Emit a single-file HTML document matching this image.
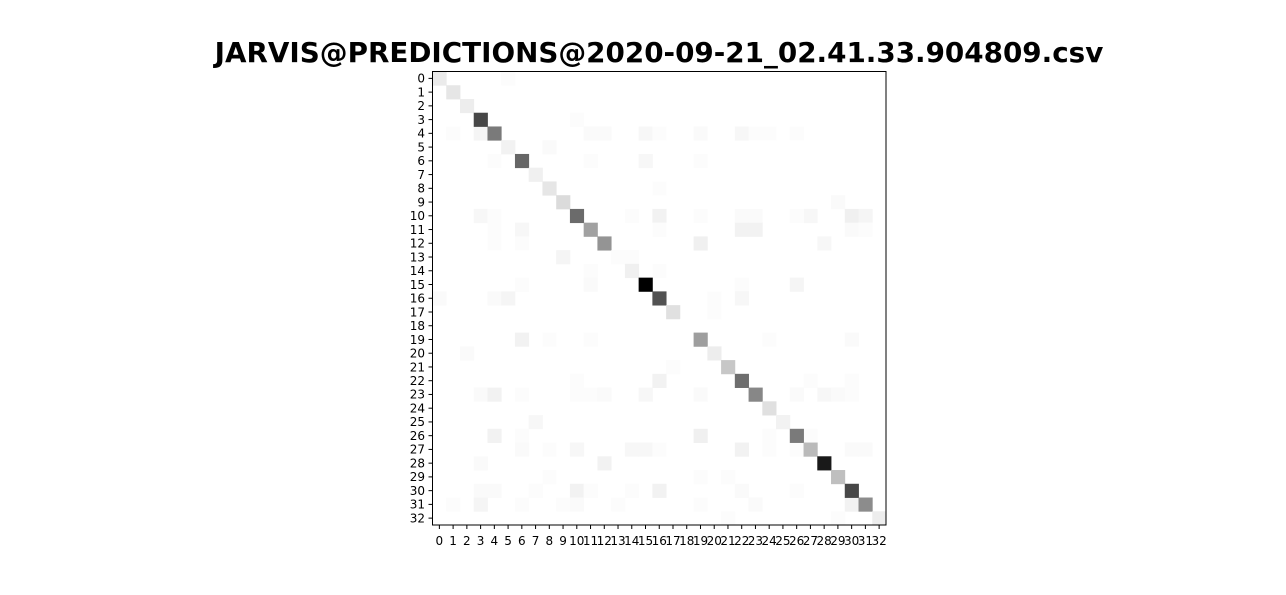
<!DOCTYPE html>
<html><head><meta charset="utf-8"><style>
body{margin:0;background:#fff;width:1286px;height:590px;overflow:hidden}
text{font-family:"DejaVu Sans","Liberation Sans",sans-serif}
</style></head><body>
<svg id="chart" width="1286" height="590" xmlns="http://www.w3.org/2000/svg">
<text x="659" y="62" text-anchor="middle" font-size="27.8" font-weight="bold" fill="#000">JARVIS@PREDICTIONS@2020-09-21_02.41.33.904809.csv</text>
<g id="cells"></g><g id="ticks"></g>
<rect x="432.5" y="71.5" width="453.5" height="453.5" fill="none" stroke="#000" stroke-width="1"/>
</svg>
<script>
const categories = Array.from({length:33},(_,i)=>String(i));
const diagonalValues = [0.08,0.1,0.07,0.72,0.52,0.05,0.6,0.06,0.1,0.14,0.58,0.37,0.42,0.01,0.06,1.0,0.68,0.12,0,0.38,0.07,0.22,0.57,0.47,0.12,0.05,0.52,0.27,0.9,0.25,0.72,0.45,0.07];
const offRows = [0,3,4,4,4,4,4,4,4,4,4,4,4,5,6,6,6,6,8,9,10,10,10,10,10,10,10,10,10,10,10,11,11,11,11,11,11,11,12,12,12,12,13,13,14,14,15,15,15,15,16,16,16,16,16,17,19,19,19,19,19,20,21,22,22,22,22,23,23,23,23,23,23,23,23,23,23,23,23,25,26,26,26,26,26,27,27,27,27,27,27,27,27,27,27,27,28,28,29,29,29,30,30,30,30,30,30,30,30,30,31,31,31,31,31,31,31,31,31,32,32];
const offCols = [5,10,1,3,11,12,15,16,19,22,23,24,26,8,4,11,15,19,16,29,3,4,14,16,19,22,23,27,30,31,26,4,6,16,22,23,30,31,4,6,19,28,9,14,11,16,6,11,22,26,0,4,5,20,22,20,6,8,11,24,30,2,17,10,16,27,30,3,4,6,10,11,12,15,19,26,28,29,30,7,4,6,19,24,27,6,8,10,14,15,16,22,24,26,30,31,3,12,8,19,21,3,4,7,10,11,14,16,22,26,1,3,6,9,10,13,19,23,30,21,29];
const offValues = [0.01,0.01,0.01,0.04,0.02,0.02,0.03,0.01,0.02,0.03,0.01,0.01,0.01,0.02,0.01,0.01,0.03,0.01,0.01,0.02,0.03,0.01,0.01,0.05,0.01,0.02,0.02,0.03,0.06,0.04,0.01,0.01,0.03,0.01,0.05,0.05,0.02,0.01,0.01,0.01,0.06,0.03,0.04,0.01,0.01,0.01,0.01,0.02,0.01,0.04,0.02,0.02,0.04,0.01,0.03,0.01,0.05,0.01,0.01,0.01,0.02,0.02,0.01,0.01,0.05,0.01,0.01,0.02,0.05,0.01,0.01,0.01,0.02,0.03,0.02,0.02,0.03,0.02,0.01,0.03,0.05,0.01,0.06,0.01,0.01,0.02,0.01,0.03,0.03,0.03,0.01,0.05,0.01,0.01,0.02,0.02,0.02,0.05,0.01,0.01,0.01,0.02,0.02,0.01,0.05,0.01,0.01,0.05,0.02,0.01,0.01,0.04,0.01,0.01,0.02,0.01,0.01,0.02,0.05,0.01,0.01];

const NS='http://www.w3.org/2000/svg';
const x0=432.5, y0=71.5, W=453.5, n=categories.length, cw=W/n;
const xScale=i=>x0+i*cw, yScale=i=>y0+i*cw;
const color=v=>{const g=Math.round(255*(1-Math.max(0,Math.min(1,v))));return `rgb(${g},${g},${g})`;};
const cells=document.getElementById('cells'), ticks=document.getElementById('ticks');
function cell(r,c,v){
  const el=document.createElementNS(NS,'rect');
  
  
  el.setAttribute('x',xScale(c));el.setAttribute('y',yScale(r));
  el.setAttribute('width',cw+0.4);el.setAttribute('height',cw+0.4);
  el.setAttribute('fill',color(v));
  cells.appendChild(el);
}
offRows.forEach((r,i)=>cell(r,offCols[i],offValues[i]));
diagonalValues.forEach((v,i)=>cell(i,i,v));
categories.forEach((lab,i)=>{
  const c=xScale(i)+cw/2, cy=yScale(i)+cw/2;
  const t1=document.createElementNS(NS,'line');
  
  
  t1.setAttribute('x1',c);t1.setAttribute('x2',c);t1.setAttribute('y1',525);t1.setAttribute('y2',529);t1.setAttribute('stroke','#000');
  ticks.appendChild(t1);
  const t2=document.createElementNS(NS,'line');
  
  
  t2.setAttribute('x1',428.5);t2.setAttribute('x2',432.5);t2.setAttribute('y1',cy);t2.setAttribute('y2',cy);t2.setAttribute('stroke','#000');
  ticks.appendChild(t2);
  const xl=document.createElementNS(NS,'text');
  
  
  xl.setAttribute('x',c);xl.setAttribute('y',545);xl.setAttribute('text-anchor','middle');xl.setAttribute('font-size','12');
  xl.textContent=lab;ticks.appendChild(xl);
  const yl=document.createElementNS(NS,'text');
  
  
  yl.setAttribute('x',425);yl.setAttribute('y',cy+4.3);yl.setAttribute('text-anchor','end');yl.setAttribute('font-size','12');
  yl.textContent=lab;ticks.appendChild(yl);
});
</script>
</body></html>
